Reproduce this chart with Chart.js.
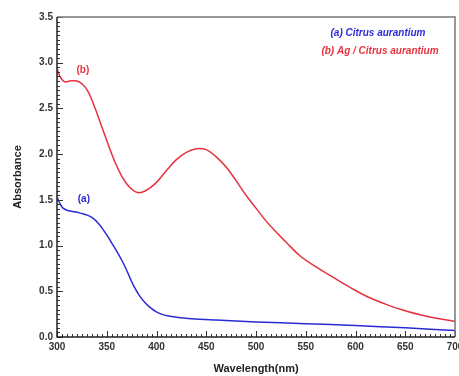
<!DOCTYPE html>
<html><head><meta charset="utf-8">
<script src="https://cdn.jsdelivr.net/npm/chart.js@4"></script>
<style>html,body{margin:0;padding:0;background:#fff}#wrap{width:459px;height:376px}</style>
</head><body><div id="wrap"><canvas id="c" width="459" height="376"></canvas></div>
<script>
const redWavelength = [300,304,308,313,320,325,331,338,345,352,358,365,372,381,389,399,410,420,430,440,450,460,470,480,490,500,510,520,530,545,560,578,595,612,630,646,670,700];
const redAbsorbance = [2.93,2.83,2.79,2.80,2.80,2.77,2.69,2.51,2.30,2.09,1.92,1.76,1.65,1.58,1.60,1.68,1.82,1.94,2.02,2.06,2.05,1.97,1.86,1.71,1.55,1.41,1.27,1.15,1.04,0.88,0.77,0.65,0.54,0.44,0.36,0.30,0.23,0.17];
const blueWavelength = [300,303,306,312,318,325,331,336,341,346,351,356,361,366,370,374,378,383,389,394,399,405,412,420,435,460,500,550,600,650,700];
const blueAbsorbance = [1.53,1.46,1.41,1.38,1.37,1.35,1.33,1.30,1.25,1.18,1.10,1.01,0.92,0.82,0.73,0.63,0.54,0.45,0.37,0.32,0.28,0.25,0.23,0.217,0.20,0.185,0.165,0.145,0.125,0.10,0.07];
const seriesNames = ["(a) Citrus aurantium", "(b) Ag / Citrus aurantium"];
const curveTags = ["(a)", "(b)"];
const xTickValues = [300,350,400,450,500,550,600,650,700];
const yTickValues = [0,0.5,1.0,1.5,2.0,2.5,3.0,3.5];

const RED = '#e5323f', BLUE = '#2b2bd6';
const toPts = (xs, ys) => xs.map((x, i) => ({x, y: ys[i]}));

const decor = {
  id: 'decor',
  afterDraw(chart) {
    const {ctx, chartArea: a, scales: {x, y}} = chart;
    ctx.save();
    ctx.strokeStyle = '#333'; ctx.lineWidth = 1;
    ctx.beginPath();
    for (let v = 300; v <= 700; v += 5) {
      const px = Math.round(x.getPixelForValue(v)) + 0.5;
      const len = v % 50 === 0 ? 6 : 3;
      ctx.moveTo(px, a.bottom); ctx.lineTo(px, a.bottom - len);
    }
    for (let k = 0; k <= 70; k++) {
      const v = k * 0.05;
      const py = Math.round(y.getPixelForValue(v)) + 0.5;
      const len = k % 10 === 0 ? 6 : 3;
      ctx.moveTo(a.left, py); ctx.lineTo(a.left + len, py);
    }
    ctx.stroke();
    ctx.lineWidth = 1.5;
    ctx.strokeStyle = '#777';
    ctx.beginPath();
    ctx.moveTo(a.left, a.top); ctx.lineTo(a.right, a.top); ctx.lineTo(a.right, a.bottom);
    ctx.stroke();
    ctx.strokeStyle = '#222';
    ctx.beginPath();
    ctx.moveTo(a.left, a.top); ctx.lineTo(a.left, a.bottom); ctx.lineTo(a.right, a.bottom);
    ctx.stroke();
    ctx.font = 'italic bold 10px "Liberation Sans", Arial, sans-serif';
    ctx.textAlign = 'center'; ctx.textBaseline = 'middle';
    ctx.fillStyle = BLUE; ctx.fillText(seriesNames[0], 378, 33);
    ctx.fillStyle = RED; ctx.fillText(seriesNames[1], 380, 51);
    ctx.font = 'bold 10px "Liberation Sans", Arial, sans-serif';
    ctx.fillStyle = BLUE; ctx.fillText(curveTags[0], x.getPixelForValue(327), y.getPixelForValue(1.51));
    ctx.fillStyle = RED; ctx.fillText(curveTags[1], x.getPixelForValue(326), y.getPixelForValue(2.92));
    ctx.restore();
  }
};

const tickFont = {family: '"Liberation Sans", Arial, sans-serif', size: 10, weight: 'bold'};
const titleFont = {family: '"Liberation Sans", Arial, sans-serif', size: 11, weight: 'bold'};

new Chart(document.getElementById('c'), {
  type: 'line',
  data: {
    datasets: [
      {label: seriesNames[0], data: toPts(blueWavelength, blueAbsorbance), borderColor: BLUE, borderWidth: 1.5, pointRadius: 0, tension: 0.4, fill: false},
      {label: seriesNames[1], data: toPts(redWavelength, redAbsorbance), borderColor: RED, borderWidth: 1.5, pointRadius: 0, tension: 0.4, fill: false}
    ]
  },
  options: {
    responsive: false, animation: false, devicePixelRatio: 1,
    layout: {padding: {left: 0, right: 4, top: 17, bottom: 0}},
    plugins: {legend: {display: false}, tooltip: {enabled: false}},
    scales: {
      x: {
        type: 'linear', min: 300, max: 700,
        afterBuildTicks: s => { s.ticks = xTickValues.map(v => ({value: v})); },
        ticks: {font: tickFont, color: '#333', padding: 4, maxRotation: 0, autoSkip: false},
        grid: {display: false, drawTicks: false}, border: {display: false},
        title: {display: true, text: 'Wavelength(nm)', font: titleFont, color: '#222', padding: {top: 4, bottom: 0}},
        afterFit: s => { s.height = 39; s.paddingLeft = 0; s.paddingRight = 0; }
      },
      y: {
        type: 'linear', min: 0, max: 3.5,
        afterBuildTicks: s => { s.ticks = yTickValues.map(v => ({value: v})); },
        ticks: {font: tickFont, color: '#333', padding: 4, callback: v => v.toFixed(1)},
        grid: {display: false, drawTicks: false}, border: {display: false},
        title: {display: true, text: 'Absorbance', font: titleFont, color: '#222', padding: {top: 11, bottom: 4}},
        afterFit: s => { s.width = 57; s.paddingTop = 0; s.paddingBottom = 0; }
      }
    }
  },
  plugins: [decor]
});
</script></body></html>
